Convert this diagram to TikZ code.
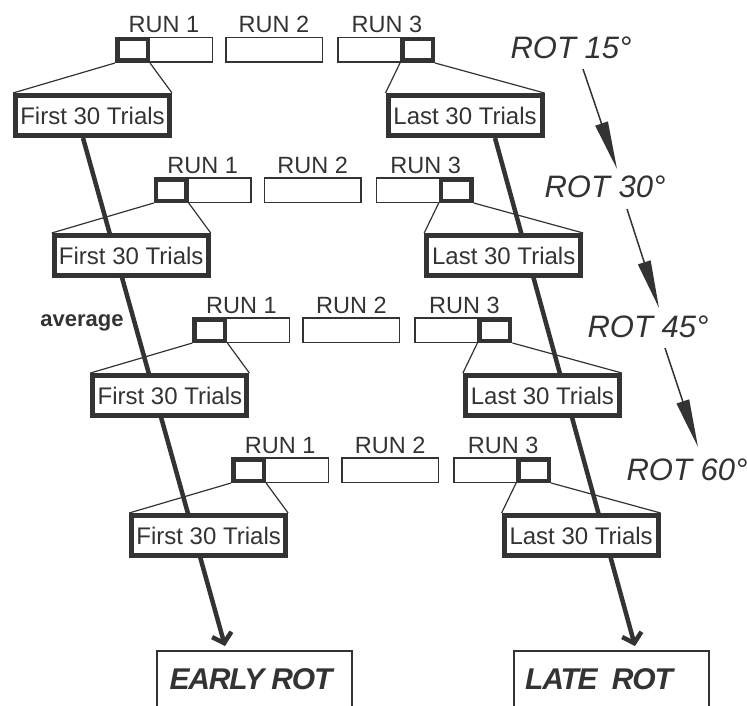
\documentclass[tikz,border=0pt]{standalone}
\usepackage{fontspec}
\setmainfont{Liberation Sans}
\usetikzlibrary{arrows.meta,calc}
\definecolor{ink}{HTML}{333333}
\pgfdeclarelayer{bg}
\pgfsetlayers{bg,main}
\begin{document}
\begin{tikzpicture}[x=1pt,y=-1pt,
  runbar/.style={draw=ink,line width=1.5pt,fill=white,minimum width=96.5pt,minimum height=24.5pt,inner sep=0pt},
  selbox/.style={draw=ink,line width=4.5pt,fill=white,minimum width=30.5pt,minimum height=21.5pt,inner sep=0pt},
  runlbl/.style={anchor=base,text=ink,font=\fontsize{23.5}{23.5}\selectfont,inner sep=0pt},
  trialbox/.style={draw=ink,line width=5pt,fill=white,minimum width=154pt,minimum height=40pt,inner sep=0pt,text=ink,font=\fontsize{24}{24}\selectfont},
  zoomline/.style={draw=ink,line width=1.2pt},
  bigarrow/.style={draw=ink,line width=4.5pt,-{Straight Barb[length=9pt,width=20pt]}},
  rotlbl/.style={text=ink,font=\fontsize{31}{31}\selectfont\itshape,inner sep=0pt},
  rotarrow/.style={draw=ink,line width=1.5pt,-{Triangle[length=48pt,width=13pt]}},
  endbox/.style={draw=ink,line width=2pt,fill=white,minimum width=195pt,minimum height=80pt,inner sep=0pt,anchor=north},
  endlbl/.style={text=ink,font=\fontsize{30}{30}\selectfont\bfseries\itshape\addfontfeatures{LetterSpace=-4},inner sep=0pt}
]
\path[use as bounding box,clip] (0,0) rectangle (747,706);

\foreach \k in {0,1,2,3}{
  \pgfmathsetmacro\dx{38.7*\k}
  \pgfmathsetmacro\dy{140*\k}
  \begin{scope}[shift={(\dx,\dy)}]
    \node[runbar] (ra\k) at (164,50) {};
    \node[runbar] (rb\k) at (274,50) {};
    \node[runbar] (rc\k) at (386,50) {};
    \node[selbox] (sa\k) at (132.5,50) {};
    \node[selbox] (sc\k) at (417.5,50) {};
    \node[runlbl] (la\k) at (164,33) {RUN 1};
    \node[runlbl] (lb\k) at (274,33) {RUN 2};
    \node[runlbl] (lc\k) at (387,33) {RUN 3};
    \node[trialbox] (f\k) at (92.5,115.5) {First 30 Trials};
    \node[trialbox] (l\k) at (465,115.5) {Last 30 Trials};
    \draw[zoomline] (sa\k.south west) -- (f\k.north west);
    \draw[zoomline] (sa\k.south east) -- (f\k.north east);
    \draw[zoomline] (sc\k.south west) -- (l\k.north west);
    \draw[zoomline] (sc\k.south east) -- (l\k.north east);
  \end{scope}
}

\node[font=\fontsize{22}{22}\selectfont\bfseries,text=ink,inner sep=0pt] (avg) at (82,323) {average};

\node[endbox] (early) at (254.5,650) {};
\node[endbox] (late) at (611.5,650) {};
\node[endlbl] (earlyt) at (251,679) {EARLY ROT};
\node[endlbl] (latet) at (599,679) {LATE~~ROT};

\begin{pgfonlayer}{bg}
  \draw[bigarrow] ($(f0.south)+(-9.5,0)$) -- ($(early.north)+(-29.5,-4)$);
  \draw[bigarrow] ($(l0.south)+(30,0)$) -- ($(late.north)+(23.5,-4)$);
\end{pgfonlayer}

\node[rotlbl] (r15) at (571,48) {ROT 15°};
\node[rotlbl] (r30) at (605,187) {ROT 30°};
\node[rotlbl] (r45) at (648,327) {ROT 45°};
\node[rotlbl] (r60) at (687,470) {ROT 60°};

\draw[rotarrow] ($(r15.center)+(12,21)$) -- ($(r30.center)+(12,-18)$);
\draw[rotarrow] ($(r30.center)+(22,22)$) -- ($(r45.center)+(11,-19)$);
\draw[rotarrow] ($(r45.center)+(17,21)$) -- ($(r60.center)+(11,-23)$);
\end{tikzpicture}
\end{document}
